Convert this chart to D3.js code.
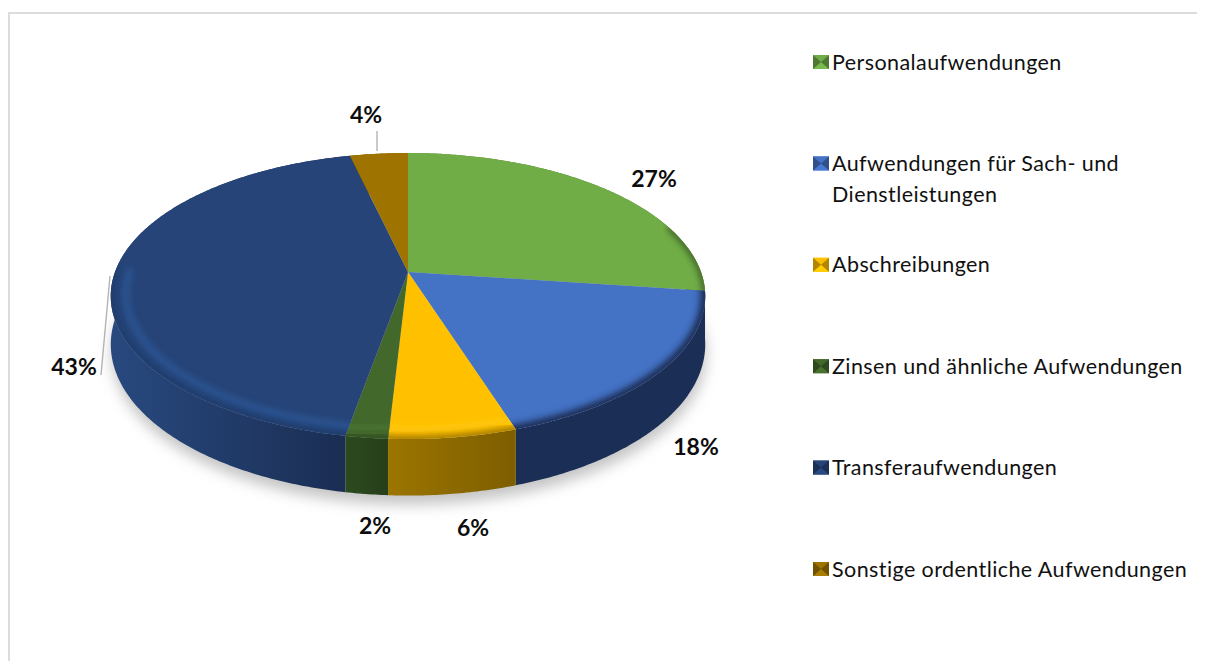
<!DOCTYPE html>
<html><head><meta charset="utf-8">
<script src="https://cdn.jsdelivr.net/npm/d3@7"></script>
<style>html,body{margin:0;padding:0;background:#fff}svg{display:block}text{font-family:Lato,"Open Sans",sans-serif}</style>
</head><body><svg id="c" width="1208" height="661"></svg>
<script>
const categories = ["Personalaufwendungen","Aufwendungen für Sach- und Dienstleistungen","Abschreibungen","Zinsen und ähnliche Aufwendungen","Transferaufwendungen","Sonstige ordentliche Aufwendungen"];
const legendLines = [["Personalaufwendungen"],["Aufwendungen für Sach- und","Dienstleistungen"],["Abschreibungen"],["Zinsen und ähnliche Aufwendungen"],["Transferaufwendungen"],["Sonstige ordentliche Aufwendungen"]];
const values = [27.1,17.9,5.9,1.95,43.45,3.7];
const topColors = ["#70ad47","#4472c4","#ffc000","#43682b","#264478","#9e7300"];
const wallStops = [["#5a8a38","#47702c"],["#1b2f56","#1b2f56"],["#9c7500","#7d5e00"],["#2b4a1f","#263f1a"],["#28497f","#1a2d52"],["#7f6000","#7f6000"]];
const edgeColors = ["#3d5e26","#1b2f56","#8f6b00","#2b4a1f","#1e3a6a","#7f6000"];
const glowColors = [null,null,"#ffc810","#4a7430","#2c5796",null];
// part of each slice's rim (degrees from its start) that carries the bevel; null = none
const bevelFrom = [72,0,0,0,0,null];
const bevelTo = [null,null,null,null,80,null];

const cx=408, cy=272, a=293, b=139, p=0.168, depth=47;
const W=d3.select("#c");
const defs=W.append("defs");
[["b2",2],["b3",3.2],["b7",7]].forEach(([id,s])=>defs.append("filter").attr("id",id)
  .attr("x","-20%").attr("y","-20%").attr("width","140%").attr("height","140%")
  .append("feGaussianBlur").attr("stdDeviation",s));

const pie=d3.pie().sort(null).value(d=>d);
const arcs=pie(values);
const sx=d3.scaleLinear().domain([-1,1]).range([cx-a,cx+a]);
const sy=d3.scaleLinear().domain([-1,1]).range([cy-b,cy+b]);
function proj(t,r=1,drop=0){
  const u=r*Math.sin(t), v=-r*Math.cos(t), s=1/(1-p*v);
  return [cx+(sx(u)-cx)*s, cy+(sy(v)-cy)*s+drop*s];
}
const samples=(t0,t1,r=1,drop=0)=>{
  const n=Math.max(2,Math.ceil((t1-t0)/0.01));
  return d3.range(n+1).map(i=>proj(t0+(t1-t0)*i/n,r,drop));
};
const line=d3.line();
const rad=d=>d*Math.PI/180;
const full=samples(0,2*Math.PI,1,depth);

// frame
W.append("path").attr("d",line([[9,661],[9,13],[1197,13]])).attr("fill","none").attr("stroke","#dcdcdc").attr("stroke-width",2);

// ground shadow
W.append("path").attr("d",line(full.map(([x,y])=>[x+1,y+9]))+"Z").attr("fill","#c4c4c4").attr("filter","url(#b7)");

// walls
const order=[5,0,4,1,3,2];
order.forEach(i=>{
  const d=arcs[i];
  const g=defs.append("linearGradient").attr("id","w"+i).attr("gradientUnits","userSpaceOnUse");
  const pts=samples(d.startAngle,d.endAngle);
  const xs=d3.extent(pts,q=>q[0]);
  g.attr("x1",xs[0]).attr("x2",xs[1]).attr("y1",0).attr("y2",0);
  g.append("stop").attr("offset",0).attr("stop-color",wallStops[i][0]);
  g.append("stop").attr("offset",1).attr("stop-color",wallStops[i][1]);
  const poly=pts.concat(samples(d.startAngle,d.endAngle,1,depth).reverse());
  W.append("path").attr("d",line(poly)+"Z").attr("fill",`url(#w${i})`);
});

// tops
arcs.forEach((d,i)=>{
  const shape=line([[cx,cy],...samples(d.startAngle,d.endAngle)])+"Z";
  defs.append("clipPath").attr("id","t"+i).append("path").attr("d",shape);
  W.append("path").attr("d",shape).attr("fill",topColors[i]);
  if(bevelFrom[i]===null) return;
  const g=W.append("g").attr("clip-path",`url(#t${i})`);
  const from=d.startAngle+rad(bevelFrom[i])-0.02;
  const to=bevelTo[i]===null?d.endAngle+0.02:d.startAngle+rad(bevelTo[i]);
  if(glowColors[i]) g.append("path").attr("d",line(samples(from,to,0.95)))
    .attr("fill","none").attr("stroke",glowColors[i]).attr("stroke-width",6).attr("stroke-linecap","round").attr("filter","url(#b3)");
  g.append("path").attr("d",line(samples(from,to)))
    .attr("fill","none").attr("stroke",edgeColors[i]).attr("stroke-width",i===1?10:6).attr("stroke-linecap","round").attr("filter","url(#b3)");
});

// leader lines
const leaders=[[[377,131],[377,151]],[[110,276],[101,375]]];
leaders.forEach(l=>W.append("path").attr("d",line(l)).attr("fill","none").attr("stroke","#b4b4b4").attr("stroke-width",1.4));

// data labels
const labelLayout=[[654,179],[696,447],[473,528],[375,526],[74,367],[366,115]];
const fmt=d3.format(".0f");
W.selectAll("text.v").data(values).join("text").attr("class","v")
  .attr("x",(d,i)=>labelLayout[i][0]).attr("y",(d,i)=>labelLayout[i][1]).attr("dy","0.36em")
  .attr("text-anchor","middle").attr("font-weight",700).attr("font-size",23).attr("fill","#0d0d0d")
  .text(d=>fmt(d)+"%");

// legend
const ly=d3.scalePoint().domain(categories).range([62,569]);
const lg=W.selectAll("g.l").data(categories).join("g").attr("class","l")
  .attr("transform",d=>`translate(813,${ly(d)})`);
lg.each(function(d,i){
  const g=d3.select(this), c=topColors[i];
  const w=16,h=14,t=-7,m=[w/2,t+h/2];
  const dk=d3.color(c).darker(1.0), lt=d3.color(c).brighter(0.2);
  g.append("rect").attr("y",t).attr("width",w).attr("height",h).attr("fill",c);
  [[[0,t],[w,t],m,c],[[0,t+h],[w,t+h],m,lt],[[0,t],[0,t+h],m,dk],[[w,t],[w,t+h],m,dk]].forEach(([A,B,C,col])=>
    g.append("path").attr("d",line([A,B,C])+"Z").attr("fill",col));
  g.selectAll("text").data(legendLines[i]).join("text")
    .attr("x",19).attr("y",(s,j)=>j*31).attr("dy","0.35em")
    .attr("font-size",21.5).attr("letter-spacing",0.42).attr("fill","#111").text(s=>s);
});
</script></body></html>
